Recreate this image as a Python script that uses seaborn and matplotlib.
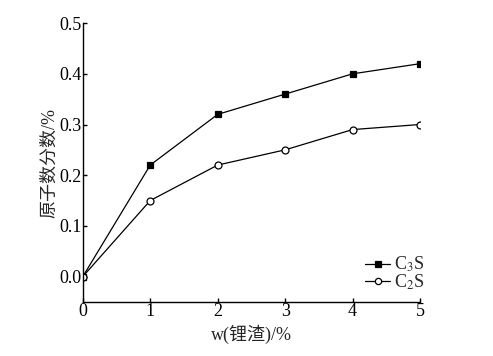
import numpy as np
import pandas as pd
import matplotlib
matplotlib.use('Agg')
import matplotlib.pyplot as plt
import seaborn as sns

# data
x_vals = [0, 1, 2, 3, 4, 5]
c3s = [0.0, 0.22, 0.32, 0.36, 0.40, 0.42]
c2s = [0.0, 0.15, 0.22, 0.25, 0.29, 0.30]
series_names = ['C$_3$S', 'C$_2$S']

df = pd.DataFrame({
    'x': x_vals * 2,
    'y': c3s + c2s,
    'phase': [series_names[0]] * len(x_vals) + [series_names[1]] * len(x_vals),
})

sns.set_style('ticks')
plt.rcParams['font.family'] = ['Liberation Serif', 'Noto Sans CJK SC']
plt.rcParams['mathtext.fontset'] = 'stix'
plt.rcParams['xtick.direction'] = 'in'
plt.rcParams['ytick.direction'] = 'in'

fig = plt.figure(figsize=(4.93, 3.56), dpi=100)
ax = fig.add_axes([0.168, 0.152, 0.684, 0.783])

for name, marker, face in [(series_names[0], 's', 'black'), (series_names[1], 'o', 'white')]:
    sub = df[df['phase'] == name]
    sns.lineplot(data=sub, x='x', y='y', ax=ax, color='black', linewidth=0.9,
                 marker=marker, markersize=5, markerfacecolor=face,
                 markeredgecolor='black', markeredgewidth=0.9, label=name)

ax.set_xlim(0, 5)
ax.set_ylim(-0.05, 0.5)
ax.set_xticks(x_vals)
ax.set_yticks([0.0, 0.1, 0.2, 0.3, 0.4, 0.5])
ax.set_yticklabels(['0.0', '0.1', '0.2', '0.3', '0.4', '0.5'])
ax.tick_params(labelsize=13, length=3, width=1, pad=1, colors='black')
ax.spines['top'].set_visible(False)
ax.spines['right'].set_visible(False)
for s in ['left', 'bottom']:
    ax.spines[s].set_linewidth(1)
    ax.spines[s].set_color('black')

ax.set_xlabel('w(锂渣)/%', fontsize=13, labelpad=3)
ax.set_ylabel('原子数分数/%', fontsize=13, labelpad=1)

leg = ax.legend(loc='lower right', bbox_to_anchor=(1.05, -0.01), frameon=False, fontsize=13,
                handlelength=1.4, handletextpad=0.2, labelspacing=-0.1, borderpad=0.2,
                markerscale=0.9)

fig.savefig('out.png', dpi=100)
